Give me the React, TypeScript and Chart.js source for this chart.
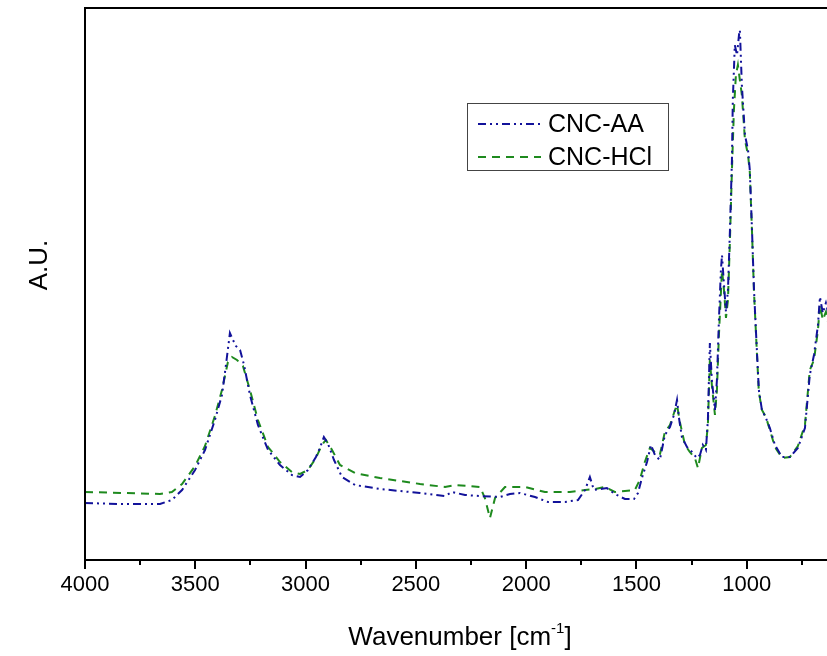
import React, { useEffect, useRef } from "react";
import { Chart, registerables } from "chart.js";

Chart.register(...registerables);

const aaWavenumbers = [4000,3841,3660,3606,3560,3501,3456,3411,3379,3361,3343,3329,3316,3297,3279,3252,3216,3170,3116,3062,3025,2989,2953,2935,2917,2898,2871,2835,2776,2663,2481,2368,2336,2277,2209,2119,2073,2028,1960,1901,1824,1765,1733,1711,1693,1634,1598,1552,1511,1493,1475,1452,1434,1416,1394,1371,1348,1330,1316,1307,1294,1271,1248,1226,1212,1199,1185,1176,1167,1158,1144,1135,1126,1117,1112,1103,1094,1085,1076,1067,1063,1058,1054,1044,1035,1031,1022,1008,994,986,976,967,954,945,931,913,895,872,840,804,768,736,714,695,677,668,655,641,623];
const aaValues = [57,56,56,60,70,90,110,140,165,195,227,220,214,210,195,165,135,110,95,85,83,90,103,112,123,116,100,83,75,71,67,64,68,65,64,63,66,67,63,58,58,60,70,83,70,72,66,61,61,67,82,98,115,105,100,125,133,145,160,142,123,113,108,102,105,115,110,140,217,180,150,180,240,290,305,275,248,270,330,400,460,490,515,505,525,530,475,425,410,390,330,270,210,170,150,142,132,115,103,103,112,132,185,205,235,263,247,257,240];

const hclWavenumbers = [4000,3660,3606,3560,3501,3456,3411,3379,3352,3334,3311,3284,3252,3216,3170,3116,3062,3025,2989,2953,2926,2908,2880,2844,2776,2663,2481,2368,2323,2255,2209,2187,2164,2141,2096,2005,1915,1802,1733,1688,1643,1598,1552,1507,1485,1462,1439,1416,1394,1371,1348,1325,1316,1303,1280,1258,1235,1221,1203,1185,1176,1167,1158,1144,1135,1126,1112,1103,1094,1085,1076,1067,1058,1049,1040,1031,1022,1008,994,986,976,967,954,945,931,913,895,872,840,804,768,736,714,695,677,668,655,641,623];
const hclValues = [68,66,68,76,94,114,144,170,198,203,200,194,170,140,113,98,88,86,90,102,115,120,110,95,87,82,76,73,75,74,73,62,42,62,73,73,68,68,70,71,73,68,69,70,80,98,112,108,105,128,135,150,155,138,115,108,102,92,112,115,135,200,175,145,170,225,290,270,242,260,320,390,450,485,495,480,465,420,405,388,328,268,208,168,150,143,130,113,102,103,114,135,190,200,230,255,240,248,230];

const xMajorTicks = [4000, 3500, 3000, 2500, 2000, 1500, 1000];
const xMinorTicks = [3750, 3250, 2750, 2250, 1750, 1250, 750];
const seriesNames = ["CNC-AA", "CNC-HCl"];
const seriesColors = ["#12129a", "#1e8a1e"];
const seriesDashes = [[8, 4, 2, 4, 2, 4], [8, 6]];

const FONT = "'Liberation Sans', Arial, sans-serif";

const decorPlugin = {
  id: "decor",
  afterDraw(chart: any) {
    const { ctx, chartArea } = chart;
    const { left, top, bottom } = chartArea;
    const xs = chart.scales.x;
    ctx.save();
    ctx.strokeStyle = "#000";
    ctx.lineWidth = 2;
    ctx.beginPath();
    ctx.moveTo(chart.width + 5, top);
    ctx.lineTo(left, top);
    ctx.lineTo(left, bottom);
    ctx.lineTo(chart.width + 5, bottom);
    ctx.stroke();
    ctx.lineWidth = 2;
    ctx.beginPath();
    for (const v of xMinorTicks) {
      const px = Math.round(xs.getPixelForValue(v));
      ctx.moveTo(px, bottom);
      ctx.lineTo(px, bottom + 5);
    }
    ctx.stroke();
    const main1 = "Wavenumber [cm";
    const sup = "-1";
    const main2 = "]";
    ctx.fillStyle = "#000";
    ctx.textBaseline = "alphabetic";
    ctx.font = `26px ${FONT}`;
    const w1 = ctx.measureText(main1).width;
    const w3 = ctx.measureText(main2).width;
    ctx.font = `15px ${FONT}`;
    const w2 = ctx.measureText(sup).width;
    const total = w1 + w2 + w3;
    const x0 = 460 - total / 2;
    const base = 645;
    ctx.font = `26px ${FONT}`;
    ctx.textAlign = "left";
    ctx.fillText(main1, x0, base);
    ctx.font = `15px ${FONT}`;
    ctx.fillText(sup, x0 + w1, base - 12);
    ctx.font = `26px ${FONT}`;
    ctx.fillText(main2, x0 + w1 + w2, base);
    ctx.save();
    ctx.translate(40, 265);
    ctx.rotate(-Math.PI / 2);
    ctx.textAlign = "center";
    ctx.textBaseline = "middle";
    ctx.font = `26px ${FONT}`;
    ctx.fillText("A.U.", 0, 0);
    ctx.restore();
    ctx.lineWidth = 1;
    ctx.strokeStyle = "#444";
    ctx.strokeRect(467.5, 103.5, 201, 67);
    const rows = [124, 157];
    for (let i = 0; i < seriesNames.length; i++) {
      ctx.beginPath();
      ctx.setLineDash(seriesDashes[i]);
      ctx.strokeStyle = seriesColors[i];
      ctx.lineWidth = 2;
      ctx.moveTo(478, rows[i]);
      ctx.lineTo(541, rows[i]);
      ctx.stroke();
      ctx.setLineDash([]);
      ctx.fillStyle = "#000";
      ctx.font = `25px ${FONT}`;
      ctx.textAlign = "left";
      ctx.textBaseline = "middle";
      ctx.fillText(seriesNames[i], 548, rows[i] + 1);
    }
    ctx.restore();
  },
};

export default function App() {
  const ref = useRef<HTMLCanvasElement | null>(null);
  useEffect(() => {
    if (!ref.current) return;
    const makeData = (xs: number[], ys: number[]) => xs.map((x, i) => ({ x, y: ys[i] }));
    const chart = new Chart(ref.current, {
      type: "line",
      data: {
        datasets: [
          {
            label: seriesNames[0],
            data: makeData(aaWavenumbers, aaValues),
            borderColor: seriesColors[0],
            borderDash: seriesDashes[0],
            borderWidth: 2,
            pointRadius: 0,
            fill: false,
            tension: 0,
          },
          {
            label: seriesNames[1],
            data: makeData(hclWavenumbers, hclValues),
            borderColor: seriesColors[1],
            borderDash: seriesDashes[1],
            borderWidth: 2,
            pointRadius: 0,
            fill: false,
            tension: 0,
          },
        ],
      },
      options: {
        responsive: false,
        animation: false,
        layout: { padding: { left: 85, top: 8, right: 0, bottom: 0 } },
        plugins: { legend: { display: false }, tooltip: { enabled: false } },
        scales: {
          x: {
            type: "linear",
            reverse: true,
            min: 636,
            max: 4000,
            afterBuildTicks: (scale: any) => {
              scale.ticks = xMajorTicks.map((v) => ({ value: v }));
            },
            afterFit: (scale: any) => {
              scale.height = 96;
            },
            grid: {
              display: true,
              drawOnChartArea: false,
              drawTicks: true,
              tickLength: 9,
              color: "#000",
              lineWidth: 2,
            },
            border: { display: false },
            ticks: {
              color: "#000",
              font: { family: FONT, size: 22 },
              padding: 3,
              maxRotation: 0,
              autoSkip: false,
              callback: (v: any) => String(v),
            },
          },
          y: {
            display: false,
            min: 0,
            max: 552,
          },
        },
      },
      plugins: [decorPlugin],
    });
    return () => chart.destroy();
  }, []);
  return (
    <div style={{ position: "fixed", left: 0, top: 0, width: 827, height: 656, overflow: "hidden", background: "#fff" }}>
      <canvas ref={ref} width={827} height={656} style={{ display: "block" }} />
    </div>
  );
}
